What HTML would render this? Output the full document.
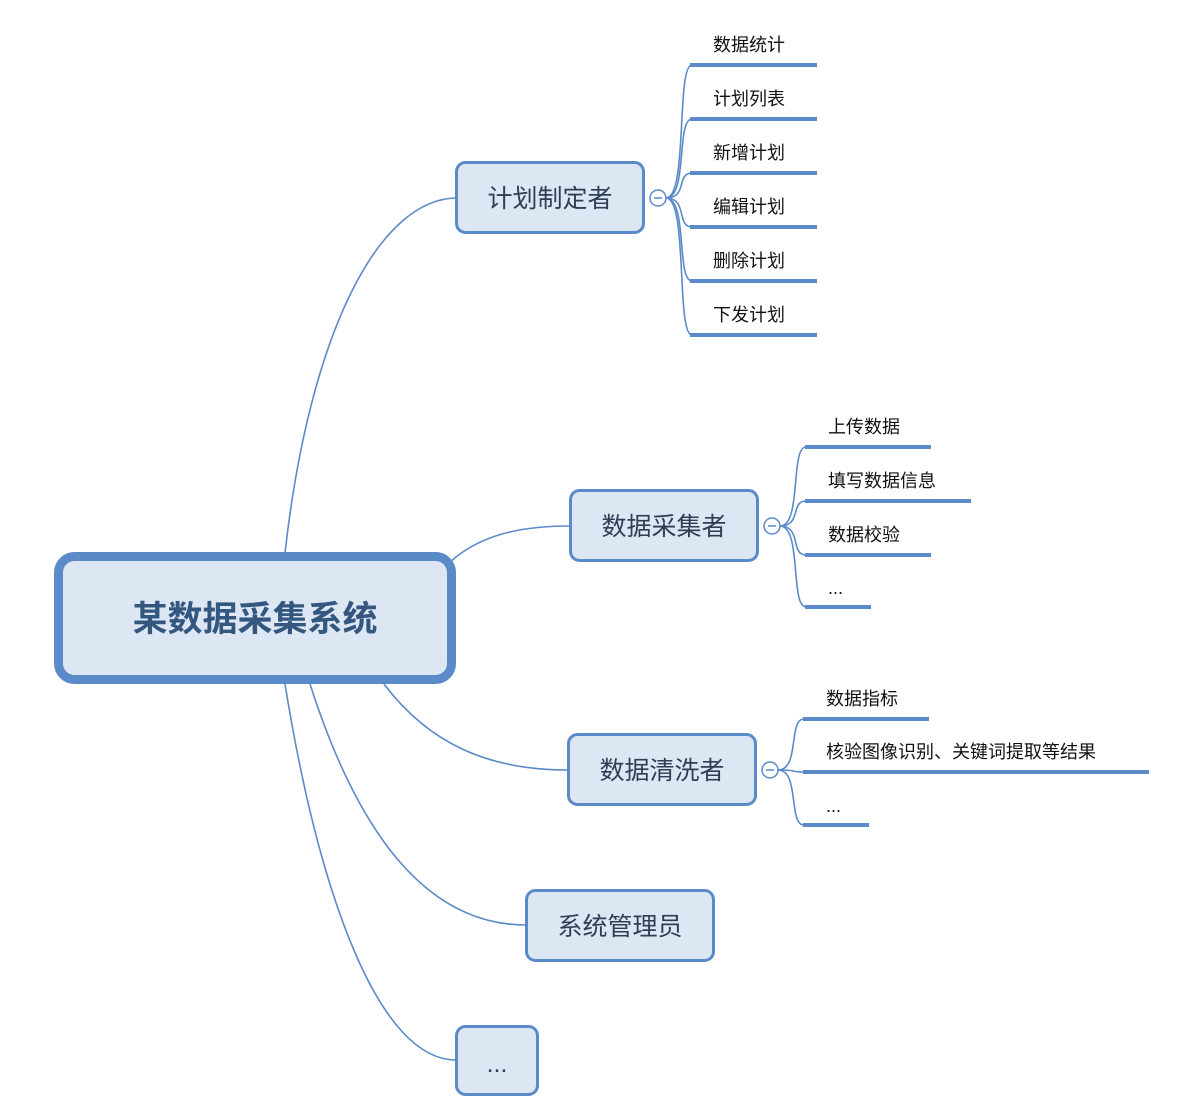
<!DOCTYPE html>
<html><head><meta charset="utf-8"><style>
html,body{margin:0;padding:0;background:#fff;}
svg{display:block}
text{font-family:"Liberation Sans","Noto Sans CJK SC",sans-serif;}
</style></head><body>
<svg width="1178" height="1118" viewBox="0 0 1178 1118" xmlns="http://www.w3.org/2000/svg">
<g fill="none" stroke="#5b8ac8" stroke-width="1.6">
<!-- root connectors -->
<path d="M285,553 C310,330 380,198 457,198"/>
<path d="M450,562 C480,535 520,526 570,526"/>
<path d="M384,684 C430,745 490,770 568,770"/>
<path d="M310,684 C360,840 430,925 526,925"/>
<path d="M285,684 C320,900 380,1060 456,1060"/>
<!-- leaf connectors group 1 -->
<path d="M666,198 C688,198 676,65 692,65"/>
<path d="M666,198 C688,198 676,119 692,119"/>
<path d="M666,198 C688,198 676,173 692,173"/>
<path d="M666,198 C688,198 676,227 692,227"/>
<path d="M666,198 C688,198 676,281 692,281"/>
<path d="M666,198 C688,198 676,335 692,335"/>
<!-- group 2 -->
<path d="M780,526 C802,526 790,447 806,447"/>
<path d="M780,526 C802,526 790,501 806,501"/>
<path d="M780,526 C802,526 790,555 806,555"/>
<path d="M780,526 C802,526 790,607 806,607"/>
<!-- group 3 -->
<path d="M778,770 C800,770 788,719 804,719"/>
<path d="M778,770 C800,770 788,772 804,772"/>
<path d="M778,770 C800,770 788,825 804,825"/>
</g>
<!-- underlines -->
<g fill="#5b8ac8">
<rect x="690" y="63" width="127" height="4"/>
<rect x="690" y="117" width="127" height="4"/>
<rect x="690" y="171" width="127" height="4"/>
<rect x="690" y="225" width="127" height="4"/>
<rect x="690" y="279" width="127" height="4"/>
<rect x="690" y="333" width="127" height="4"/>
<rect x="805" y="445" width="126" height="4"/>
<rect x="805" y="499" width="166" height="4"/>
<rect x="805" y="553" width="126" height="4"/>
<rect x="805" y="605" width="66" height="4"/>
<rect x="803" y="717" width="126" height="4"/>
<rect x="803" y="770" width="346" height="4"/>
<rect x="803" y="823" width="66" height="4"/>
</g>
<!-- leaf texts -->
<g font-size="18" fill="#111">
<text x="713" y="51">数据统计</text>
<text x="713" y="105">计划列表</text>
<text x="713" y="159">新增计划</text>
<text x="713" y="213">编辑计划</text>
<text x="713" y="267">删除计划</text>
<text x="713" y="321">下发计划</text>
<text x="828" y="433">上传数据</text>
<text x="828" y="487">填写数据信息</text>
<text x="828" y="541">数据校验</text>
<text x="828" y="594">...</text>
<text x="826" y="705">数据指标</text>
<text x="826" y="758">核验图像识别、关键词提取等结果</text>
<text x="826" y="812">...</text>
</g>
<!-- collapse circles -->
<g fill="#fff" stroke="#5b8ac8" stroke-width="1.5">
<circle cx="658" cy="198" r="8"/>
<circle cx="772" cy="526" r="8"/>
<circle cx="770" cy="770" r="8"/>
</g>
<g stroke="#5b8ac8" stroke-width="1.5">
<line x1="654" y1="198" x2="662" y2="198"/>
<line x1="768" y1="526" x2="776" y2="526"/>
<line x1="766" y1="770" x2="774" y2="770"/>
</g>
<!-- nodes -->
<g fill="#dde6f3" stroke="#5b8ac8" stroke-width="3">
<rect x="456.5" y="162.5" width="187" height="70" rx="9"/>
<rect x="570.5" y="490.5" width="187" height="70" rx="9"/>
<rect x="568.5" y="734.5" width="187" height="70" rx="9"/>
<rect x="526.5" y="890.5" width="187" height="70" rx="9"/>
<rect x="456.5" y="1026.5" width="81" height="68" rx="9"/>
</g>
<rect x="58.5" y="556.5" width="393" height="123" rx="16" fill="#dde6f3" stroke="#5b8ac8" stroke-width="9"/>
<g font-size="25" fill="#2e3e55" text-anchor="middle">
<text x="550" y="207">计划制定者</text>
<text x="664" y="535">数据采集者</text>
<text x="662" y="779">数据清洗者</text>
<text x="620" y="935">系统管理员</text>
<text x="497" y="1072">...</text>
</g>
<text x="255" y="631" font-size="35" font-weight="bold" fill="#34577f" text-anchor="middle">某数据采集系统</text>
</svg>
</body></html>
